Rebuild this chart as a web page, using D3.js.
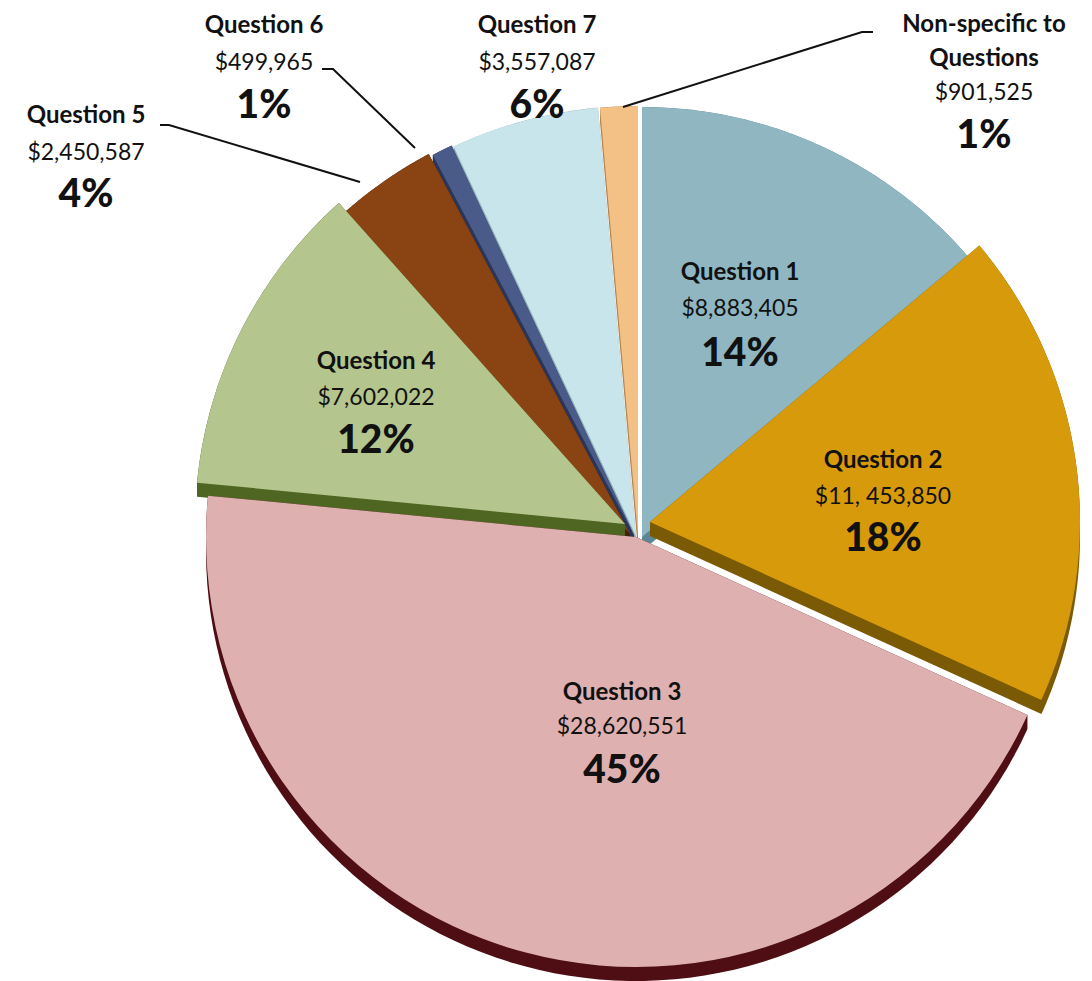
<!DOCTYPE html>
<html><head><meta charset="utf-8">
<script src="https://cdn.jsdelivr.net/npm/d3@7"></script>
<style>body{margin:0;background:#fff} svg{display:block}</style>
</head><body>
<script>
// ---- data ----
const categories = ["Question 1","Question 2","Question 3","Question 4","Question 5","Question 6","Question 7","Non-specific to Questions"];
const values = [8883405, 11453850, 28620551, 7602022, 2450587, 499965, 3557087, 901525];
const valueLabels = ["$8,883,405","$11, 453,850","$28,620,551","$7,602,022","$2,450,587","$499,965","$3,557,087","$901,525"];

// ---- styling / layout ----
const W = 1092, H = 981;
const cx = 636, cy = 537, R = 430, depth = 14;
const topColors  = ["#8fb6c1","#d69a0b","#dfb0b0","#b4c58d","#8a4413","#4a5b8a","#c9e5ec","#f3c185"];
const sideColors = ["#5c8694","#7b5a05","#4e0e13","#4f6622","#4a1f07","#2a3558","#8fb0b8","#b38450"];
const offsets = [[6,0],[14,-15],[0,0],[-11,-13],[-6,-3],[-2,-2],[0,-1],[2,-1]];
const drawOrder = [7,6,5,0,4,3,1,2];
// label anchor: [centerX, nameBaseline, valueBaseline, pctBaseline]
const labelPos = [
  [740, 280, 316, 366],
  [883, 468, 504, 551],
  [622, 700, 734, 783],
  [376, 369, 405, 453],
  [86, 123, 160, 207],
  [264, 33, 70, 118],
  [537, 33, 70, 118],
  [984, 32, 100, 148]
];
const leaders = {
  4: [[160,125],[169,125],[360,182]],
  5: [[322,69],[333,69],[415,148]],
  7: [[873,32],[862,32],[623,107]]
};

const svg = d3.select("body").append("svg").attr("width", W).attr("height", H);
const total = d3.sum(values);
const pie = d3.pie().sort(null).value(d => d)(values);
const arc = d3.arc().innerRadius(0).outerRadius(R);

function slicePoints(d, ox, oy) {
  const pts = [[ox, oy]];
  const n = 80;
  for (let i = 0; i <= n; i++) {
    const a = d.startAngle + (d.endAngle - d.startAngle) * i / n;
    pts.push([ox + R * Math.sin(a), oy - R * Math.cos(a)]);
  }
  return pts;
}

const g = svg.append("g").attr("transform", `translate(${cx},${cy})`);
drawOrder.forEach(i => {
  const d = pie[i];
  const [ox, oy] = offsets[i];
  const p0 = slicePoints(d, ox, oy);
  const p1 = p0.map(p => [p[0], p[1] + depth]);
  const hull = d3.polygonHull(p0.concat(p1));
  g.append("path")
    .attr("d", "M" + hull.map(p => p.join(",")).join("L") + "Z")
    .attr("fill", sideColors[i]);
  g.append("path")
    .attr("d", arc(d))
    .attr("transform", `translate(${ox},${oy})`)
    .attr("fill", topColors[i]);
});

// leader lines
Object.keys(leaders).forEach(k => {
  svg.append("path")
    .attr("d", d3.line()(leaders[k]))
    .attr("fill", "none").attr("stroke", "#111").attr("stroke-width", 2);
});

// labels
const font = "Lato, 'Open Sans', sans-serif";
const pctFmt = v => Math.round(v / total * 100) + "%";
categories.forEach((c, i) => {
  const [x, yn, yv, yp] = labelPos[i];
  const t = svg.append("g").attr("font-family", font).attr("fill", "#111").attr("text-anchor", "middle");
  if (i === 7) {
    t.append("text").attr("x", x).attr("y", yn).attr("font-size", 24).attr("font-weight", 700).text("Non-specific to");
    t.append("text").attr("x", x).attr("y", 66).attr("font-size", 24).attr("font-weight", 700).text("Questions");
  } else {
    t.append("text").attr("x", x).attr("y", yn).attr("font-size", 24).attr("font-weight", 700).text(c);
  }
  t.append("text").attr("x", x).attr("y", yv).attr("font-size", 23).attr("font-weight", 400).text(valueLabels[i]);
  t.append("text").attr("x", x).attr("y", yp).attr("font-size", 39).attr("font-weight", 900).text(pctFmt(values[i]));
});
</script>
</body></html>
